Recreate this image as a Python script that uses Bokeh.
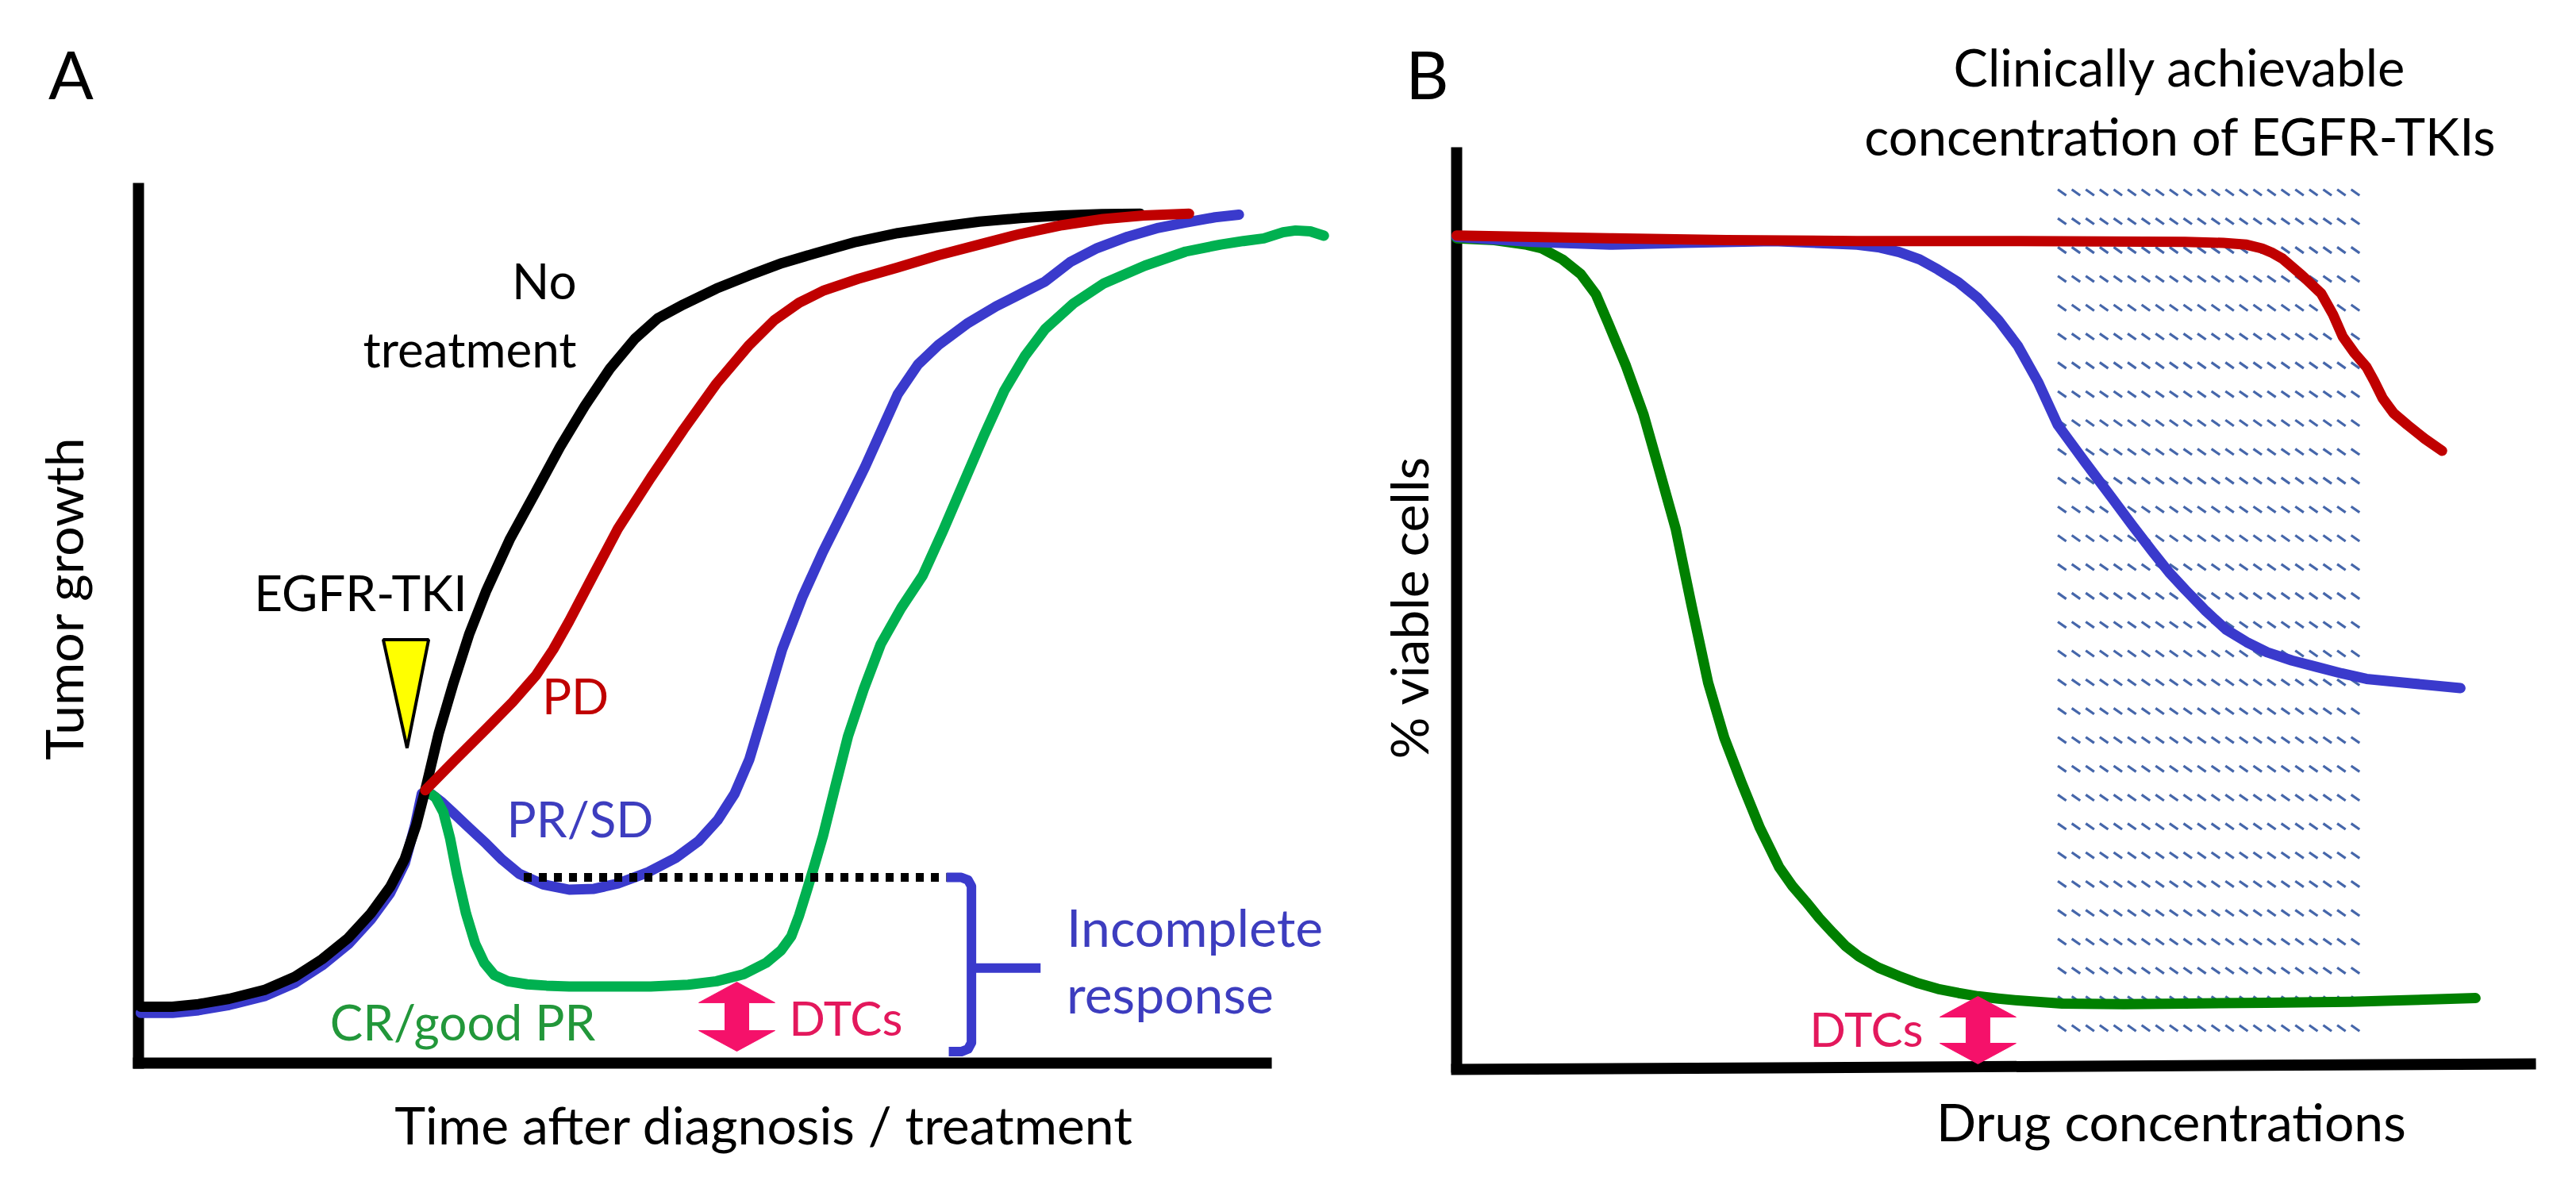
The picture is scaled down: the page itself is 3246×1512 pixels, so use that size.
import numpy as np
from bokeh.plotting import figure
from bokeh.models import Range1d, Label
from bokeh.layouts import row
from bokeh.embed import file_html
from bokeh.resources import INLINE

FONT = "Lato"

# ---------------- Panel A: tumour growth vs time (arbitrary units 0-100) ----------------
a_black_t = [0.2, 3.0, 5.3, 8.0, 11.1, 13.8, 16.2, 18.5, 20.5, 22.2, 23.5, 24.5, 25.3, 26.5, 27.8, 29.2,
             30.7, 32.8, 35.1, 37.2, 39.4, 41.6, 43.8, 45.8, 48.1, 51.0, 53.9, 56.8, 59.7, 63.3, 67.0,
             70.6, 74.2, 77.8, 81.5, 85.0, 88.4]
a_black_g = [6.4, 6.4, 6.7, 7.3, 8.3, 9.8, 11.8, 14.2, 17.0, 20.0, 23.2, 27.0, 31.0, 37.5, 43.2, 48.8,
             53.7, 59.6, 65.0, 70.0, 74.7, 78.9, 82.3, 84.6, 86.2, 88.0, 89.5, 90.9, 92.0, 93.3, 94.3,
             95.0, 95.6, 96.0, 96.3, 96.45, 96.5]

a_red_t = [25.3, 27.9, 30.7, 33.0, 35.1, 36.6, 38.0, 40.2, 42.3, 45.2, 48.1, 51.0, 53.9, 56.1, 58.3,
           60.5, 63.5, 67.0, 70.6, 74.2, 77.8, 81.5, 85.1, 88.7, 92.7]
a_red_g = [31.0, 34.4, 38.0, 41.0, 44.1, 47.0, 50.2, 55.6, 60.7, 66.5, 72.0, 77.2, 81.6, 84.4, 86.4,
           87.8, 89.1, 90.4, 91.8, 93.0, 94.2, 95.2, 95.9, 96.3, 96.5]

a_blue_t = [0.2, 3.0, 5.3, 8.0, 11.1, 13.8, 16.2, 18.5, 20.5, 22.2, 23.5, 24.4, 25.0, 25.8, 26.8, 27.8,
            29.2, 30.7, 32.1, 33.6, 35.7, 38.0, 40.2, 42.3, 45.0, 47.4, 49.4, 51.1, 52.6, 53.9, 55.3,
            56.8, 58.6, 60.4, 62.3, 64.1, 65.6, 67.0, 68.8, 70.6, 73.1, 75.7, 78.0, 80.0, 82.2, 84.6,
            87.3, 90.0, 92.4, 95.0, 97.1]
a_blue_g = [5.7, 5.7, 6.0, 6.6, 7.6, 9.1, 11.1, 13.5, 16.3, 19.3, 22.7, 27.0, 30.6, 30.6, 29.6, 28.4,
            26.7, 24.9, 23.1, 21.5, 20.3, 19.7, 19.8, 20.4, 21.7, 23.3, 25.2, 27.6, 30.6, 34.5, 40.5,
            47.0, 53.0, 58.1, 63.0, 67.7, 72.0, 76.0, 79.4, 81.6, 84.0, 86.0, 87.5, 88.8, 91.0, 92.6,
            93.9, 94.9, 95.5, 96.1, 96.4]

a_green_t = [25.3, 26.2, 26.9, 27.5, 28.1, 28.9, 29.7, 30.5, 31.4, 32.6, 34.3, 36.0, 38.0, 45.2, 48.5,
             51.0, 53.4, 55.4, 56.7, 57.6, 58.3, 59.0, 59.7, 60.4, 61.5, 62.6, 64.0, 65.5, 67.3, 69.2,
             71.0, 72.8, 74.6, 76.4, 78.2, 80.0, 82.5, 85.2, 88.8, 92.4, 95.5, 97.5, 99.3, 101.0, 102.1,
             103.4, 104.6]
a_green_g = [31.0, 30.2, 28.5, 25.5, 21.5, 17.0, 13.6, 11.4, 10.0, 9.3, 8.95, 8.8, 8.7, 8.7, 8.9,
             9.3, 10.1, 11.4, 12.8, 14.4, 16.8, 19.7, 22.7, 25.8, 31.5, 37.1, 42.5, 47.6, 51.7, 55.4,
             60.5, 65.9, 71.3, 76.4, 80.3, 83.4, 86.3, 88.6, 90.6, 92.2, 93.0, 93.4, 93.7, 94.4, 94.6,
             94.5, 94.0]

a_dotted_t = [34.0, 71.3]
a_dotted_g = [21.1, 21.1]

a_bracket_t = [71.3, 72.6, 73.2, 73.5, 73.5, 73.2, 72.6, 71.5]
a_bracket_g = [21.1, 21.1, 20.8, 20.1, 2.3, 1.6, 1.3, 1.3]
a_tick_t = [73.9, 79.6]
a_tick_g = [10.8, 10.8]

a_tri_t = [21.6, 25.6, 23.7]
a_tri_g = [48.1, 48.1, 35.8]

a_dtc_arrow = dict(cx=52.8, top=9.2, bot=1.35)

# axis lines (data units)
a_yaxis_t, a_yaxis_g = [0, 0], [-0.63, 100]
a_xaxis_t, a_xaxis_g = [-0.49, 100], [0, 0]

# ---------------- Panel B: % viable cells vs drug concentration ----------------
b_red_c = [0.0, 7.0, 14.2, 25.0, 37.1, 52.3, 67.5, 71.0, 73.2, 74.6, 75.6, 76.5, 78.3, 80.1, 81.2,
           82.1, 83.2, 84.3, 85.0, 85.8, 86.8, 88.1, 89.7, 91.3]
b_red_v = [90.4, 90.25, 90.1, 89.9, 89.8, 89.8, 89.7, 89.6, 89.4, 89.0, 88.5, 87.9, 86.1, 84.1, 81.8,
           79.4, 77.6, 76.1, 74.6, 72.7, 71.1, 69.8, 68.3, 67.0]

b_blue_c = [0.0, 7.0, 14.2, 21.0, 29.4, 37.1, 39.2, 41.0, 42.9, 44.6, 46.5, 48.3, 50.2, 52.0, 53.9,
            55.7, 58.2, 60.7, 62.6, 64.5, 66.0, 67.5, 69.4, 71.25, 73.2, 75.1, 77.4, 79.7, 82.0, 84.3,
            88.6, 93.0]
b_blue_v = [90.25, 89.7, 89.4, 89.6, 89.8, 89.4, 89.1, 88.6, 87.8, 86.7, 85.3, 83.6, 81.2, 78.4, 74.4,
            69.8, 65.8, 61.9, 58.9, 56.0, 53.8, 51.9, 49.6, 47.6, 46.2, 45.1, 44.2, 43.5, 42.8, 42.2,
            41.7, 41.2]

b_green_c = [0.0, 3.5, 6.5, 7.9, 9.8, 11.5, 12.9, 14.0, 15.7, 17.3, 18.8, 20.3, 21.8, 23.3, 24.8,
             26.4, 28.1, 29.9, 31.1, 32.35, 33.6, 34.85, 36.0, 37.3, 39.1, 40.96, 42.8, 44.6, 46.5,
             48.3, 50.2, 52.0, 56.1, 61.8, 67.5, 75.0, 82.8, 88.6, 94.4]
b_green_v = [90.1, 89.9, 89.4, 89.0, 87.8, 86.2, 84.0, 81.0, 76.2, 71.0, 64.8, 58.5, 50.0, 41.8, 35.8,
             30.9, 26.0, 21.7, 19.7, 18.0, 16.2, 14.6, 13.2, 12.0, 10.8, 9.9, 9.1, 8.5, 8.05,
             7.7, 7.45, 7.25, 6.9, 6.85, 6.9, 7.0, 7.1, 7.3, 7.5]

b_hatch_c = [55.7, 84.3]     # clinically achievable concentration band
b_hatch_v = [4.23, 95.08]    # last / first hatch row
b_dtc_arrow = dict(cx=48.3, top=7.68, bot=0.35)

b_yaxis_c, b_yaxis_v = [0, 0], [-0.6, 100]
b_xaxis_c, b_xaxis_v = [-0.51, 100], [-0.26, 0.35]

# colours
BLACK = "#000000"
RED = "#c00000"
BLUE = "#3a3acc"
GREEN_A = "#00b050"
GREEN_B = "#008000"
PINK = "#f5116a"
PINK_TXT = "#e3185c"
BLUE_TXT = "#3d3dbf"
GREEN_TXT = "#22973a"
HATCH = "#4566aa"


def make_fig(width, xr, yr):
    p = figure(width=width, height=1496, x_range=Range1d(*xr), y_range=Range1d(*yr),
               output_backend="svg", toolbar_location=None, title=None,
               x_axis_location=None, y_axis_location=None,
               min_border=0, min_border_left=0, min_border_right=0,
               min_border_top=0, min_border_bottom=0)
    p.grid.visible = False
    p.outline_line_color = None
    p.background_fill_color = "white"
    p.border_fill_color = "white"
    return p


def lab(p, ppu, x, y_base, text, size, color=BLACK, align="left"):
    # y_base is the text baseline (data units); anchor the label at its middle
    y_mid = y_base + 0.36 * size / ppu
    p.add_layout(Label(x=x, y=y_mid, text=text, text_font=FONT, text_font_size=f"{size}px",
                       text_color=color, text_align=align, text_baseline="middle"))


def vlab(p, x, y, text, size, color=BLACK):
    p.add_layout(Label(x=x, y=y, text=text, text_font=FONT, text_font_size=f"{size}px",
                       text_color=color, text_align="center", text_baseline="middle", angle=np.pi / 2))


def dbl_arrow(p, cx, top, bot, hw, sw, hl, color):
    xs = [cx, cx + hw, cx + sw, cx + sw, cx + hw, cx, cx - hw, cx - sw, cx - sw, cx - hw]
    ys = [top, top - hl, top - hl, bot + hl, bot + hl, bot, bot + hl, bot + hl, top - hl, top - hl]
    p.patch(xs, ys, fill_color=color, line_color=color, line_width=1)


LW = 13
AX = 14
PPU_A = 11.09
PPU_B = 11.59

# ---------------- figure A ----------------
pa = make_fig(1730, (-12.185, 108.96), (-14.16, 120.74))

pa.line(a_yaxis_t, a_yaxis_g, line_color=BLACK, line_width=AX)
pa.line(a_xaxis_t, a_xaxis_g, line_color=BLACK, line_width=AX)

pa.line(a_blue_t, a_blue_g, line_color=BLUE, line_width=LW, line_cap="round", line_join="round")
pa.line(a_green_t, a_green_g, line_color=GREEN_A, line_width=LW, line_cap="round", line_join="round")
pa.line(a_black_t, a_black_g, line_color=BLACK, line_width=LW, line_cap="round", line_join="round")
pa.line(a_red_t, a_red_g, line_color=RED, line_width=LW, line_cap="round", line_join="round")
pa.line(a_dotted_t, a_dotted_g, line_color=BLACK, line_width=11, line_dash="10 9")
pa.line(a_bracket_t, a_bracket_g, line_color=BLUE, line_width=12, line_join="round")
pa.line(a_tick_t, a_tick_g, line_color=BLUE, line_width=12)
pa.patch(a_tri_t, a_tri_g, fill_color="#ffff00", line_color=BLACK, line_width=4)
dbl_arrow(pa, a_dtc_arrow["cx"], a_dtc_arrow["top"], a_dtc_arrow["bot"], 3.36, 1.05, 2.34, PINK)

lab(pa, PPU_A, -5.95, 109.7, "A", 84, align="center")
vlab(pa, -6.65, 52.8, "Tumor growth", 66)
lab(pa, PPU_A, 55.2, -9.1, "Time after diagnosis / treatment", 66, align="center")
lab(pa, PPU_A, 38.66, 86.9, "No", 62, align="right")
lab(pa, PPU_A, 38.66, 79.2, "treatment", 62, align="right")
lab(pa, PPU_A, 10.2, 51.5, "EGFR-TKI", 62)
lab(pa, PPU_A, 35.6, 39.8, "PD", 62, color=RED)
lab(pa, PPU_A, 32.5, 25.8, "PR/SD", 62, color=BLUE_TXT)
lab(pa, PPU_A, 16.9, 2.7, "CR/good PR", 62, color=GREEN_TXT)
lab(pa, PPU_A, 57.4, 3.2, "DTCs", 60, color=PINK_TXT)
lab(pa, PPU_A, 81.9, 13.4, "Incomplete", 66, color=BLUE_TXT)
lab(pa, PPU_A, 81.9, 5.8, "response", 66, color=BLUE_TXT)

# ---------------- figure B ----------------
pb = make_fig(1500, (-7.72, 102.57), (-13.11, 115.96))

# hatch texture of the clinically achievable band (short "\" dashes)
dc = 17.6 / 13.6
cols = np.arange(b_hatch_c[0], b_hatch_c[1] - 0.7, dc)
rows = np.linspace(b_hatch_v[1], b_hatch_v[0], 30)
cc, rr = np.meshgrid(cols, rows)
cc = cc.ravel()
rr = rr.ravel()
pb.segment(x0=cc, y0=rr + 0.32, x1=cc + 0.78, y1=rr - 0.32, line_color=HATCH, line_width=3.2)

pb.line(b_yaxis_c, b_yaxis_v, line_color=BLACK, line_width=AX)
pb.line(b_xaxis_c, b_xaxis_v, line_color=BLACK, line_width=AX)

pb.line(b_green_c, b_green_v, line_color=GREEN_B, line_width=LW, line_cap="round", line_join="round")
pb.line(b_blue_c, b_blue_v, line_color=BLUE, line_width=LW, line_cap="round", line_join="round")
pb.line(b_red_c, b_red_v, line_color=RED, line_width=LW, line_cap="round", line_join="round")
dbl_arrow(pb, b_dtc_arrow["cx"], b_dtc_arrow["top"], b_dtc_arrow["bot"], 3.53, 1.10, 2.24, PINK)

lab(pb, PPU_B, -2.72, 105.4, "B", 84, align="center")
vlab(pb, -4.49, 49.96, "% viable cells", 66)
lab(pb, PPU_B, 66.2, -7.94, "Drug concentrations", 66, align="center")
lab(pb, PPU_B, 67.0, 106.7, "Clinically achievable", 65, align="center")
lab(pb, PPU_B, 67.06, 99.2, "concentration of EGFR-TKIs", 65, align="center")
lab(pb, PPU_B, 32.7, 2.33, "DTCs", 60, color=PINK_TXT)

layout = row(pa, pb)
open("out.html", "w").write(file_html(layout, INLINE))
